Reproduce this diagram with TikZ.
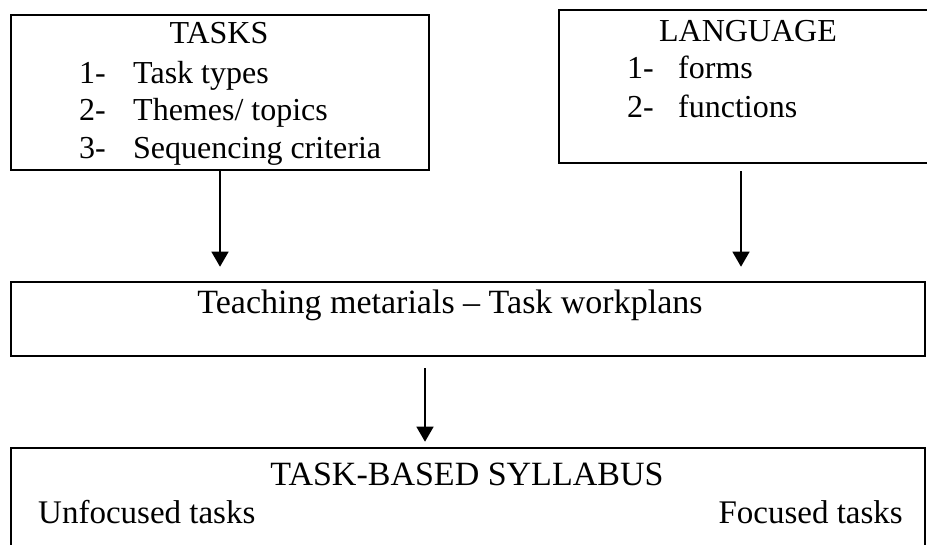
\documentclass[tikz,border=0pt]{standalone}
\usepackage{fontspec}
\setmainfont{Liberation Serif}
\usetikzlibrary{arrows.meta}
\begin{document}
\begin{tikzpicture}[x=1pt,y=-1pt,
  box/.style={draw,line width=2.6pt,inner sep=0pt},
  txt/.style={inner sep=0pt,font=\fontsize{32}{38}\selectfont},
  txtb/.style={inner sep=0pt,font=\fontsize{34}{40}\selectfont},
  txtc/.style={inner sep=0pt,font=\fontsize{33}{40}\selectfont},
  arr/.style={line width=1.4pt,-{Triangle[length=15pt,width=17pt]}}]
\useasboundingbox (0,0) rectangle (927,544);
\begin{scope}
\clip (0,0) rectangle (927,544);
% boxes
\node[box,minimum width=418pt,minimum height=155pt] (tasks) at (220,92.5) {};
\node[box,minimum width=380pt,minimum height=153pt] (lang) at (749,86.5) {};
\node[box,minimum width=914pt,minimum height=74pt] (mid) at (468,319) {};
\node[box,minimum width=914pt,minimum height=130pt] (syl) at (468,513) {};
\end{scope}
% texts
\node[txt,anchor=base] (t0) at (219,43) {TASKS};
\node[txt,anchor=base west] (t1n) at (79,83) {1-};
\node[txt,anchor=base west] (t1) at (133,83) {Task types};
\node[txt,anchor=base west] (t2n) at (79,120.5) {2-};
\node[txt,anchor=base west] (t2) at (133,120.5) {Themes/ topics};
\node[txt,anchor=base west] (t3n) at (79,158) {3-};
\node[txt,anchor=base west] (t3) at (133,158) {Sequencing criteria};
\node[txt,anchor=base] (l0) at (748,41) {LANGUAGE};
\node[txt,anchor=base west] (l1n) at (627,78) {1-};
\node[txt,anchor=base west] (l1) at (678,78) {forms};
\node[txt,anchor=base west] (l2n) at (627,117) {2-};
\node[txt,anchor=base west] (l2) at (678,117) {functions};
\node[txtb,anchor=base] (m0) at (450,313) {Teaching metarials -- Task workplans};
\node[txtb,anchor=base] (s0) at (467,485) {TASK-BASED SYLLABUS};
\node[txtc,anchor=base west] (s1) at (38,523) {Unfocused tasks};
\node[txtc,anchor=base east] (s2) at (903,523) {Focused tasks};
% connectors
\coordinate (ra) at (741,0);
\coordinate (ma) at (425,0);
\draw[arr,shorten >=14pt] (tasks.south) -- (tasks.south |- mid.north);
\draw[arr,shorten <=7pt,shorten >=14pt] (lang.south -| ra) -- (mid.north -| ra);
\draw[arr,shorten <=11pt,shorten >=5pt] (mid.south -| ma) -- (syl.north -| ma);
\end{tikzpicture}
\end{document}
